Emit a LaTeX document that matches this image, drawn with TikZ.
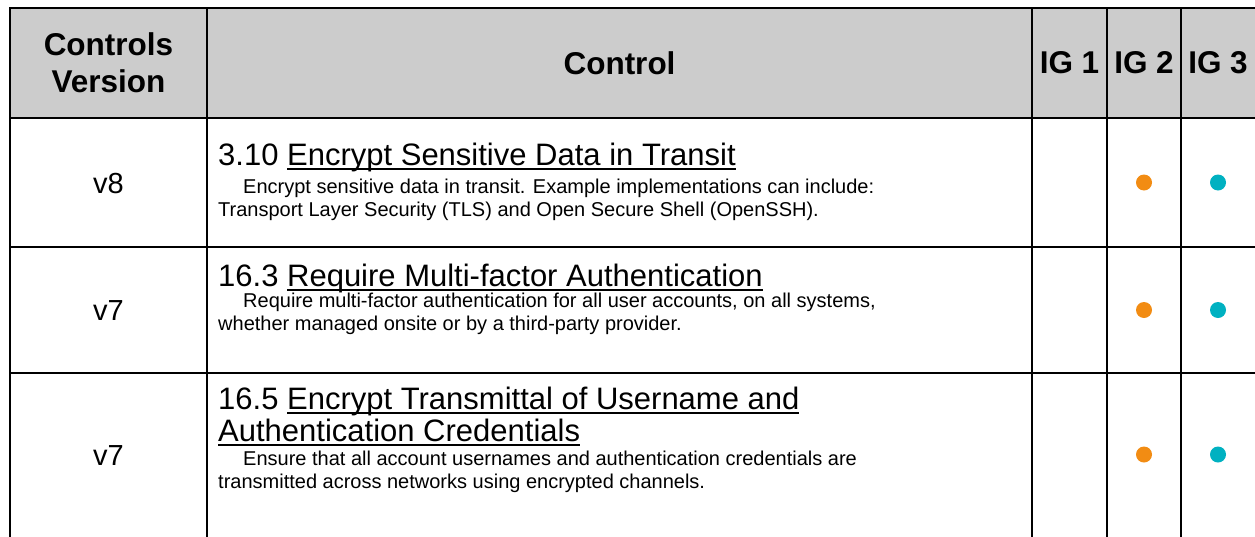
\documentclass[tikz,border=0pt]{standalone}
\usepackage{fontspec}
\setmainfont{Liberation Sans}
\definecolor{hdrgray}{HTML}{CCCCCC}
\definecolor{igorange}{HTML}{F28C13}
\definecolor{igteal}{HTML}{00B1C1}
\newsavebox{\ulbox}
\newcommand{\ctrlul}[1]{\sbox{\ulbox}{#1}\rlap{\rule[-5pt]{\wd\ulbox}{2.2pt}}\usebox{\ulbox}}
\tikzset{
  grid/.style={line width=2.8pt},
  hdr/.style={font=\fontsize{31.5}{37}\selectfont\bfseries, align=center, inner sep=0pt},
  ver/.style={font=\fontsize{29}{32}\selectfont, inner sep=0pt},
  ttl/.style={font=\fontsize{31}{33}\selectfont, anchor=base west, inner sep=0pt},
  dsc/.style={font=\fontsize{20}{23}\selectfont, anchor=base west, inner sep=0pt},
  igdot/.style={circle, inner sep=0pt, minimum size=16pt}
}
\begin{document}
\begin{tikzpicture}[x=1pt,y=-1pt]
        \clip (0,0) rectangle (1255,536);
        % Header band
        \fill[hdrgray] (10,8) rectangle (1262,118);
        % Grid
        \draw[grid] (10,8) rectangle (1262,548);
        \foreach \x in {207,1032,1107,1181} \draw[grid] (\x,8) -- (\x,548);
        \foreach \y in {118,247,373} \draw[grid] (10,\y) -- (1262,\y);
        % Header
        \node[hdr] (hver) at (108.5,63) {Controls\\Version};
        \node[hdr] (hctl) at (619.5,63) {Control};
        \node[hdr] (hig1) at (1069.5,63) {IG 1};
        \node[hdr] (hig2) at (1144,63) {IG 2};
        \node[hdr] (hig3) at (1218,63) {IG 3};
        % Versions
        \node[ver] (v1) at (108.5,184) {v8};
        \node[ver] (v2) at (108.5,311) {v7};
        \node[ver] (v3) at (108.5,456) {v7};
        % Row 1
        \node[ttl] (t1) at (218,165) {3.10 \ctrlul{Encrypt Sensitive Data in Transit}};
        \node[dsc] (d1a) at (243,193) {Encrypt sensitive data in transit. Example implementations can include:};
        \node[dsc] (d1b) at (218,216) {Transport Layer Security (TLS) and Open Secure Shell (OpenSSH).};
        % Row 2
        \node[ttl] (t2) at (218,286) {16.3 \ctrlul{Require Multi-factor Authentication}};
        \node[dsc] (d2a) at (243,307) {Require multi-factor authentication for all user accounts, on all systems,};
        \node[dsc] (d2b) at (218,330) {whether managed onsite or by a third-party provider.};
        % Row 3
        \node[ttl] (t3a) at (218,409) {16.5 \ctrlul{Encrypt Transmittal of Username and}};
        \node[ttl] (t3b) at (218,441) {\ctrlul{Authentication Credentials}};
        \node[dsc] (d3a) at (243,465) {Ensure that all account usernames and authentication credentials are};
        \node[dsc] (d3b) at (218,488) {transmitted across networks using encrypted channels.};
        % IG marks
        \foreach \y [count=\i] in {182.5,310,454.5} {
          \node[igdot, fill=igorange] (ig2r\i) at (1144,\y) {};
          \node[igdot, fill=igteal] (ig3r\i) at (1218,\y) {};
        }
\end{tikzpicture}
\end{document}
